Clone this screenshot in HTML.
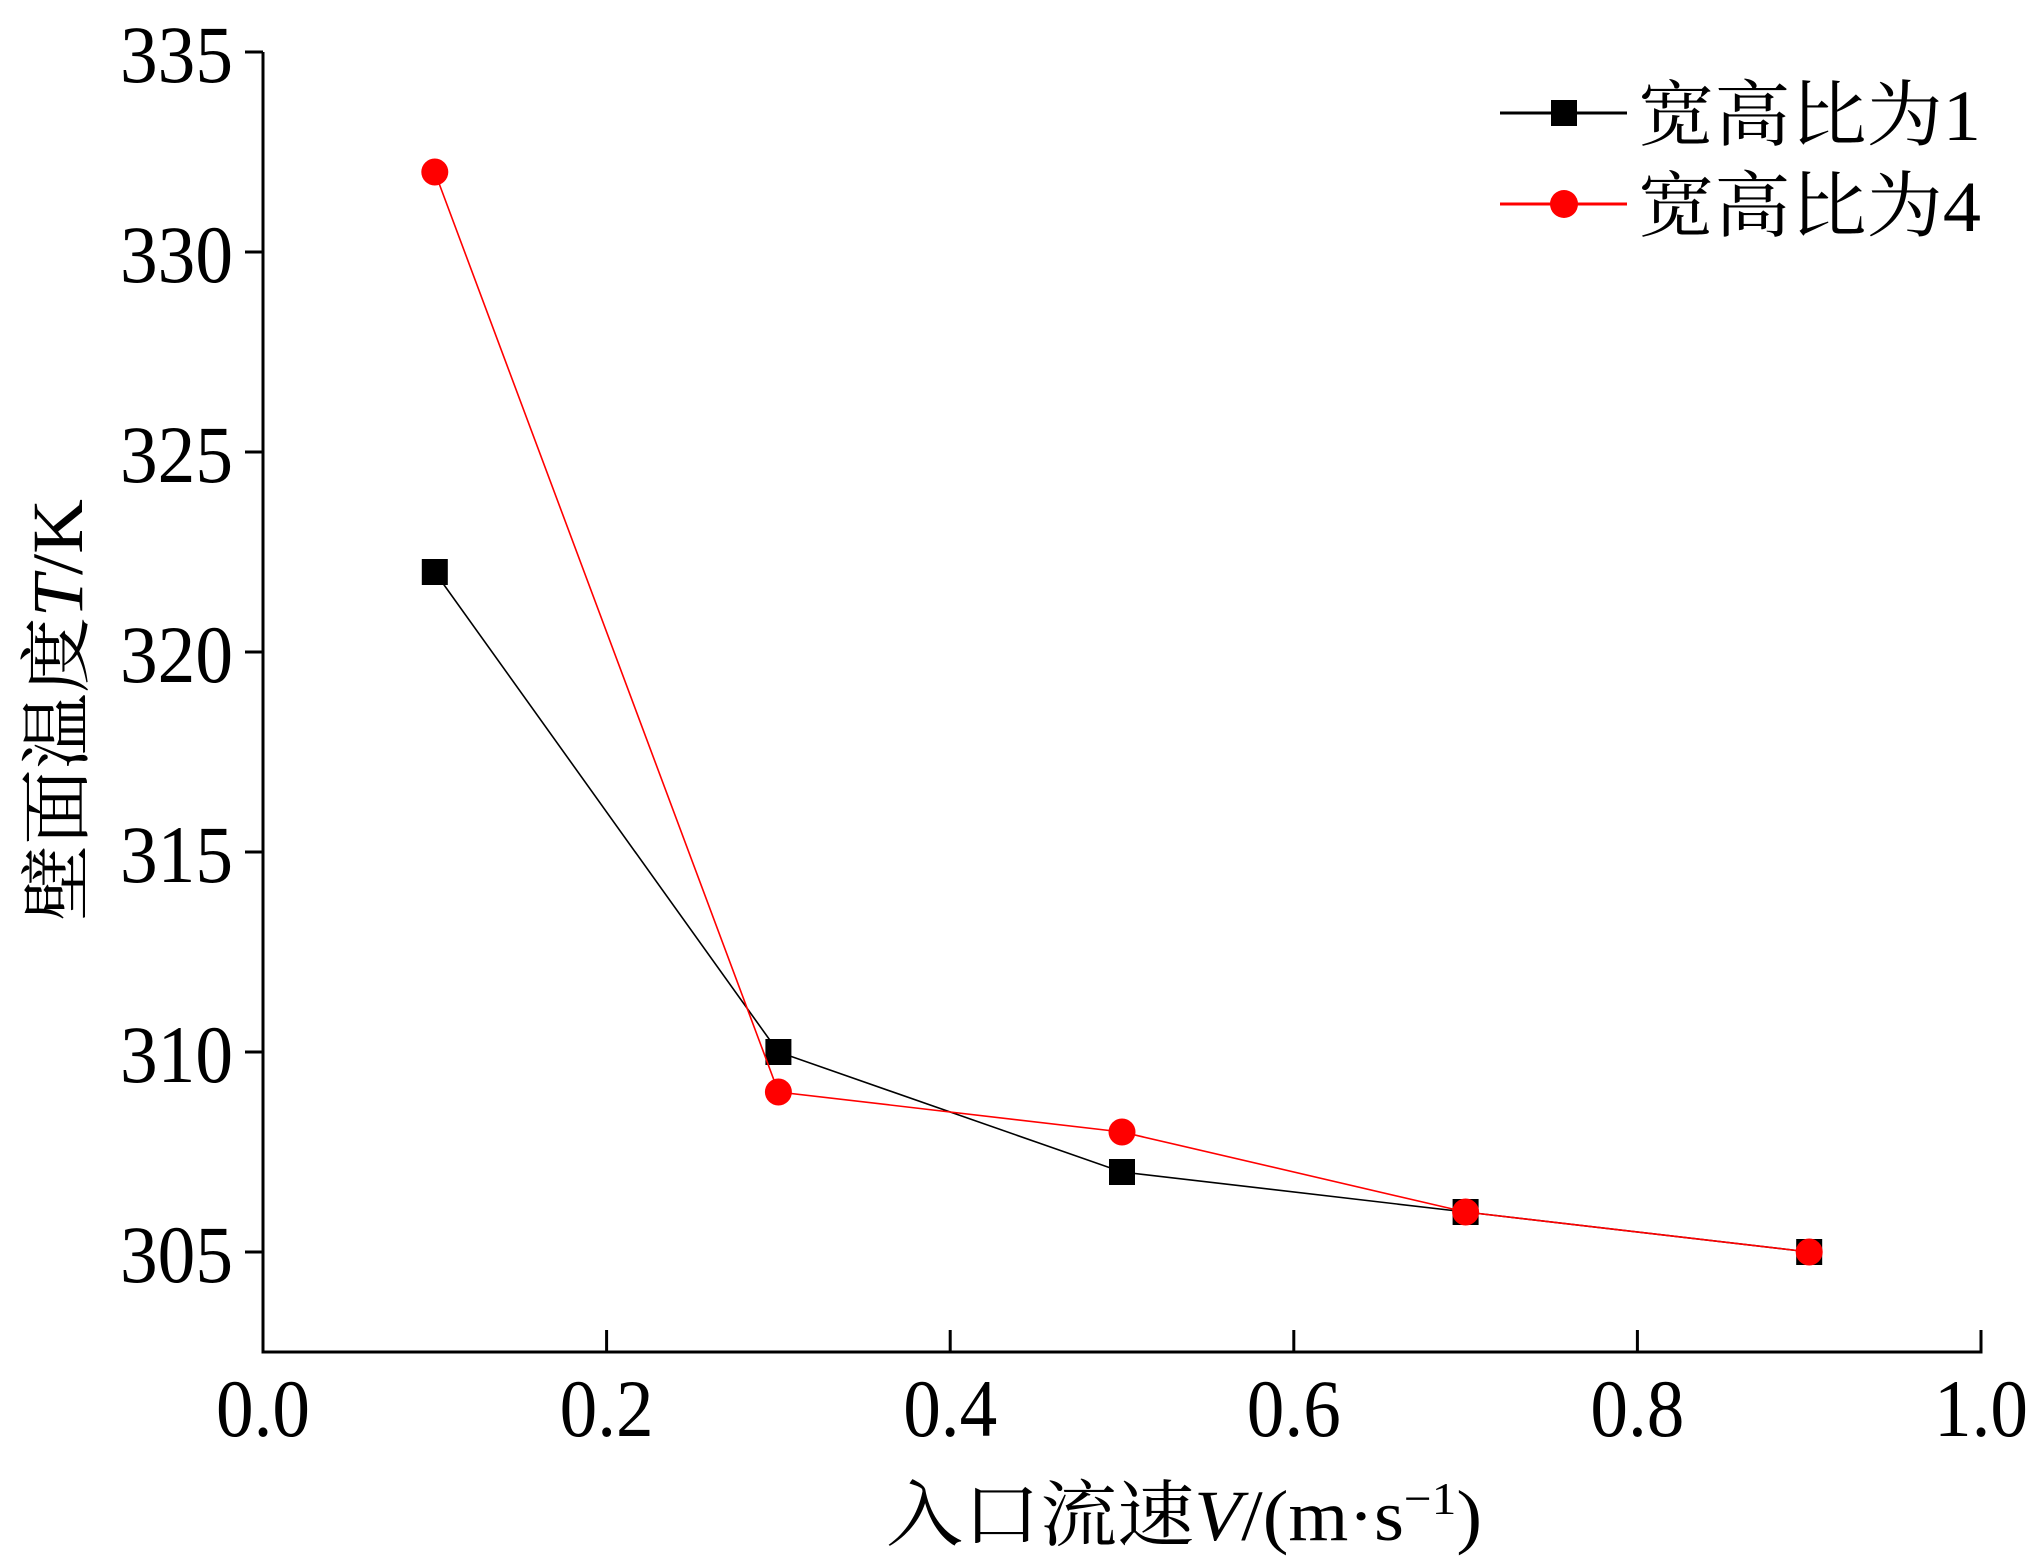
<!DOCTYPE html>
<html><head><meta charset="utf-8"><style>
html,body{margin:0;padding:0;background:#fff}
svg{display:block}
text{font-family:"Liberation Serif","Noto Serif CJK SC","Noto Sans CJK SC",serif;fill:#000}
</style></head><body>
<svg id="chart" width="2033" height="1561" viewBox="0 0 2033 1561" xmlns="http://www.w3.org/2000/svg">
<g id="axes"></g>
<g id="series"></g>
<g id="legend">
  <line x1="1500" y1="113" x2="1627" y2="113" stroke="#000" stroke-width="3"/>
  <rect x="1551" y="100" width="26" height="26" fill="#000"/>
  <text x="1638" y="140" font-size="72" textLength="343" lengthAdjust="spacingAndGlyphs">宽高比为1</text>
  <line x1="1500" y1="204" x2="1627" y2="204" stroke="#f00" stroke-width="3"/>
  <circle cx="1564" cy="204" r="14" fill="#f00"/>
  <text x="1638" y="231" font-size="72" textLength="343" lengthAdjust="spacingAndGlyphs">宽高比为4</text>
</g>
<text x="886" y="1540" font-size="72" textLength="596" lengthAdjust="spacingAndGlyphs">入口流速<tspan font-style="italic">V</tspan>/(m·s<tspan dy="-26" font-size="46">−1</tspan><tspan dy="26">)</tspan></text>
<text transform="translate(82,710) rotate(-90)" x="-211" y="0" font-size="72" textLength="422" lengthAdjust="spacingAndGlyphs">壁面温度<tspan font-style="italic">T</tspan>/K</text>
</svg>
<script>
const categories = [0.1, 0.3, 0.5, 0.7, 0.9];
const seriesRatio1 = [322, 310, 307, 306, 305];
const seriesRatio4 = [332, 309, 308, 306, 305];
const xTicks = [0.0, 0.2, 0.4, 0.6, 0.8, 1.0];
const xTickLabels = ["0.0","0.2","0.4","0.6","0.8","1.0"];
const yTicks = [305, 310, 315, 320, 325, 330, 335];
const yTickLabels = ["305","310","315","320","325","330","335"];

const NS = "http://www.w3.org/2000/svg";
const L = 263, R = 1981, T = 52, B = 1352;
const xMin = 0, xMax = 1, yMin = 302.5, yMax = 335;
const xs = v => L + (v - xMin) / (xMax - xMin) * (R - L);
const ys = v => B - (v - yMin) / (yMax - yMin) * (B - T);
function mk(tag, attrs, parent){const e=document.createElementNS(NS,tag);for(const k in attrs)e.setAttribute(k,attrs[k]);parent.appendChild(e);return e;}
const axes = document.getElementById('axes');
let e = mk('line',{x1:L,y1:T,x2:L,y2:B,stroke:'#000','stroke-width':3},axes);


e = mk('line',{x1:L-1.5,y1:B,x2:R+1.5,y2:B,stroke:'#000','stroke-width':3},axes);


xTicks.forEach((v,i)=>{
  const x = xs(v);
  let t = mk('line',{x1:x,y1:B,x2:x,y2:B-22,stroke:'#000','stroke-width':3},axes);
  
  
  let lb = mk('text',{x:x-47,y:B+84,'font-size':82,textLength:94,lengthAdjust:'spacingAndGlyphs'},axes);
  lb.textContent = xTickLabels[i];
  
  
});
yTicks.forEach((v,i)=>{
  const y = ys(v);
  let t = mk('line',{x1:L,y1:y,x2:L-18,y2:y,stroke:'#000','stroke-width':3},axes);
  
  
  let lb = mk('text',{x:L-143,y:y+30,'font-size':82,textLength:113,lengthAdjust:'spacingAndGlyphs'},axes);
  lb.textContent = yTickLabels[i];
  
  
});
const sg = document.getElementById('series');
function drawSeries(vals,color,name,shape){
  const pts = categories.map((c,i)=>xs(c)+','+ys(vals[i])).join(' ');
  const pl = mk('polyline',{points:pts,fill:'none',stroke:color,'stroke-width':1.6},sg);
  
  
  categories.forEach((c,i)=>{
    let m;
    if(shape==='square') m = mk('rect',{x:xs(c)-13,y:ys(vals[i])-13,width:26,height:26,fill:color},sg);
    else m = mk('circle',{cx:xs(c),cy:ys(vals[i]),r:13.5,fill:color},sg);
    
    
  });
}
drawSeries(seriesRatio1,'#000','ratio-1','square');
drawSeries(seriesRatio4,'#f00','ratio-4','circle');
</script>
</body></html>
